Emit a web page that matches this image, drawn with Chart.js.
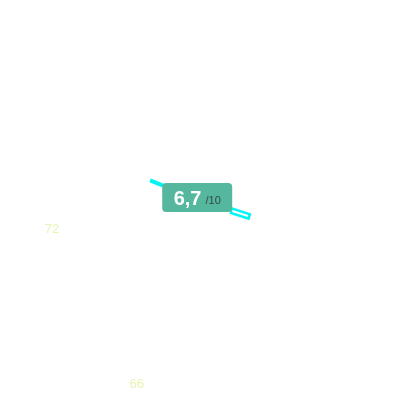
<!DOCTYPE html>
<html>
<head>
<meta charset="utf-8">
<script src="https://cdn.jsdelivr.net/npm/chart.js@4"></script>
<style>
html,body{margin:0;padding:0;background:#fff;}
#wrap{width:400px;height:400px;}
</style>
</head>
<body>
<div id="wrap"><canvas id="c" width="400" height="400"></canvas></div>
<script>
// Data
const needleX = [37.5, 40.8];
const needleY = [54.9, 53.6];
const needleTailX = [57.6, 62.6];
const needleTailY = [47.4, 45.8];
const labelValues = [72, 66];
const labelX = [13, 34.2];
const labelY = [42.7, 4];
const score = "6,7";
const scoreMax = "/10";
const scoreX = 49.3;
const scoreY = 50.6;

const toPts = (xs, ys) => xs.map((x, i) => ({x: x, y: ys[i]}));

const overlay = {
  id: 'overlay',
  afterDatasetsDraw(chart) {
    const ctx = chart.ctx;
    const xs = chart.scales.x, ys = chart.scales.y;
    ctx.save();
    ctx.font = '13px "Liberation Sans", Arial, sans-serif';
    ctx.fillStyle = '#e6f5b4';
    ctx.textAlign = 'center';
    ctx.textBaseline = 'middle';
    labelValues.forEach((v, i) => {
      ctx.fillText(String(v), xs.getPixelForValue(labelX[i]), ys.getPixelForValue(labelY[i]));
    });
    const cx = xs.getPixelForValue(scoreX), cy = ys.getPixelForValue(scoreY);
    const w = 70, h = 29, r = 4;
    const x0 = cx - w / 2, y0 = cy - h / 2;
    ctx.fillStyle = '#55b89e';
    ctx.beginPath();
    ctx.roundRect(x0, y0, w, h, r);
    ctx.fill();
    ctx.textAlign = 'left';
    ctx.textBaseline = 'alphabetic';
    ctx.font = 'bold 20px "Liberation Sans", Arial, sans-serif';
    const sw = ctx.measureText(score).width;
    ctx.font = '11px "Liberation Sans", Arial, sans-serif';
    const mw = ctx.measureText(scoreMax).width;
    const total = sw + 4 + mw;
    const sx = cx - total / 2;
    ctx.font = 'bold 20px "Liberation Sans", Arial, sans-serif';
    ctx.fillStyle = '#ffffff';
    ctx.fillText(score, sx, cy + 7);
    ctx.font = '11px "Liberation Sans", Arial, sans-serif';
    ctx.fillStyle = '#2f4b44';
    ctx.fillText(scoreMax, sx + sw + 4, cy + 6);
    ctx.restore();
  }
};

new Chart(document.getElementById('c'), {
  type: 'scatter',
  data: {
    datasets: [
      {
        data: toPts(needleX, needleY),
        showLine: true,
        borderColor: '#00f5f5',
        borderWidth: 4,
        pointRadius: 0,
        borderCapStyle: 'butt',
        order: 2
      },
      {
        data: toPts(needleTailX, needleTailY),
        showLine: true,
        borderColor: '#00f5f5',
        borderWidth: 7,
        pointRadius: 0,
        borderCapStyle: 'butt',
        order: 2
      },
      {
        data: toPts([needleTailX[0] + 0.5, needleTailX[1] - 0.6], [needleTailY[0] - 0.15, needleTailY[1] + 0.2]),
        showLine: true,
        borderColor: '#ffffff',
        borderWidth: 2,
        pointRadius: 0,
        borderCapStyle: 'butt',
        order: 1
      }
    ]
  },
  options: {
    responsive: false,
    animation: false,
    layout: {padding: 0},
    plugins: {legend: {display: false}, tooltip: {enabled: false}},
    scales: {
      x: {display: false, min: 0, max: 100},
      y: {display: false, min: 0, max: 100}
    }
  },
  plugins: [overlay]
});
</script>
</body>
</html>
